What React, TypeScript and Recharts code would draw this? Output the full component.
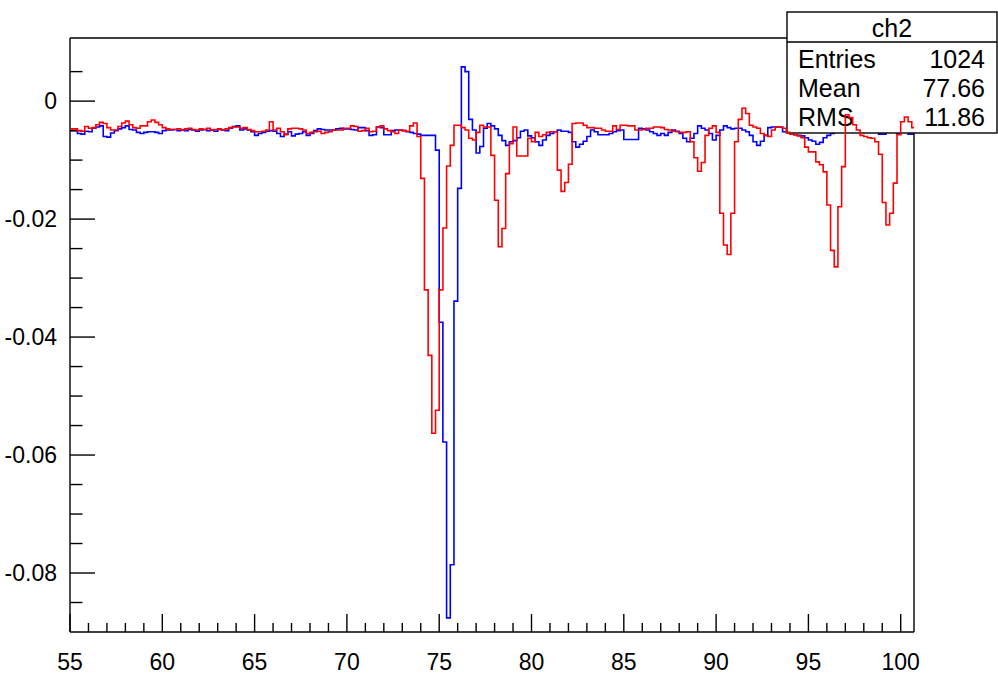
import React from 'react'
import { LineChart, Line, XAxis, YAxis } from 'recharts'

// histogram binning (lower edge of first bin, bin width)
const binStart = 55
const binWidth = 0.2

const redValues = [
  -0.0047, -0.0047, -0.005, -0.0051, -0.0043, -0.0046, -0.0045, -0.004, -0.0036, -0.0038,
  -0.0045, -0.0049, -0.0049, -0.0043, -0.0037, -0.0034, -0.004, -0.0045, -0.0046, -0.0042,
  -0.0042, -0.0035, -0.0032, -0.0036, -0.004, -0.0045, -0.0047, -0.0048, -0.0048, -0.0047,
  -0.0049, -0.0047, -0.0046, -0.0048, -0.0049, -0.0047, -0.0048, -0.0046, -0.0049, -0.0048,
  -0.0047, -0.0049, -0.0047, -0.0045, -0.0044, -0.0044, -0.0046, -0.0045, -0.0048, -0.005,
  -0.0052, -0.0052, -0.0051, -0.0049, -0.0035, -0.0049, -0.0046, -0.0052, -0.0057, -0.0047,
  -0.0046, -0.0046, -0.0047, -0.0049, -0.0055, -0.0053, -0.0052, -0.0051, -0.0055, -0.0053,
  -0.0052, -0.0049, -0.0049, -0.0049, -0.0046, -0.0046, -0.0042, -0.0043, -0.0051, -0.005,
  -0.0046, -0.0052, -0.0051, -0.0044, -0.0042, -0.0047, -0.005, -0.0052, -0.0055, -0.0049,
  -0.005, -0.0051, -0.0042, -0.0037, -0.006, -0.0131, -0.032, -0.0431, -0.0563, -0.0524,
  -0.032, -0.0215, -0.011, -0.0075, -0.0041, -0.0041, -0.0045, -0.0049, -0.0063, -0.0066,
  -0.0053, -0.0041, -0.0044, -0.0044, -0.0092, -0.0168, -0.0247, -0.0216, -0.0123, -0.0072,
  -0.0044, -0.0093, -0.0093, -0.0093, -0.0063, -0.0069, -0.0053, -0.006, -0.0057, -0.0053,
  -0.0052, -0.0052, -0.0117, -0.0153, -0.0138, -0.0107, -0.0038, -0.0037, -0.0037, -0.0041,
  -0.0045, -0.0045, -0.0046, -0.0046, -0.0049, -0.0051, -0.0051, -0.0042, -0.0048, -0.0041,
  -0.0041, -0.0042, -0.0042, -0.0049, -0.0049, -0.0048, -0.0046, -0.0046, -0.0044, -0.0044,
  -0.0045, -0.0048, -0.0049, -0.0051, -0.0052, -0.0053, -0.0053, -0.0052, -0.0069, -0.0096,
  -0.0119, -0.0104, -0.0058, -0.0046, -0.0042, -0.0053, -0.019, -0.0244, -0.026, -0.019,
  -0.0069, -0.0031, -0.0012, -0.0021, -0.0041, -0.0044, -0.0046, -0.0055, -0.0058, -0.006,
  -0.0049, -0.0044, -0.0044, -0.0046, -0.0053, -0.0056, -0.0057, -0.0059, -0.0062, -0.0078,
  -0.0086, -0.0086, -0.0103, -0.0108, -0.012, -0.0176, -0.0253, -0.0281, -0.0179, -0.0111,
  -0.0023, -0.0028, -0.004, -0.0049, -0.0058, -0.006, -0.0062, -0.0063, -0.0069, -0.009,
  -0.0172, -0.021, -0.019, -0.0139, -0.0057, -0.0035, -0.0027, -0.0035, -0.0045,
]

const blueValues = [
  -0.005, -0.005, -0.0055, -0.0056, -0.0051, -0.0052, -0.0046, -0.0044, -0.0042, -0.006,
  -0.0061, -0.0054, -0.005, -0.0047, -0.0045, -0.0042, -0.0048, -0.0049, -0.0053, -0.0055,
  -0.0053, -0.0052, -0.0052, -0.0053, -0.0055, -0.005, -0.0049, -0.0049, -0.0048, -0.005,
  -0.0049, -0.005, -0.0048, -0.0049, -0.0051, -0.0049, -0.0048, -0.005, -0.0049, -0.0051,
  -0.0048, -0.0049, -0.005, -0.0046, -0.0043, -0.0042, -0.0049, -0.0047, -0.0049, -0.0052,
  -0.0058, -0.0055, -0.0053, -0.0051, -0.005, -0.0051, -0.0055, -0.006, -0.0056, -0.0052,
  -0.0059, -0.0056, -0.0055, -0.0052, -0.0058, -0.0055, -0.005, -0.0047, -0.0048, -0.0049,
  -0.0049, -0.0049, -0.0047, -0.0046, -0.0047, -0.0047, -0.0048, -0.0049, -0.0045, -0.0045,
  -0.005, -0.0058, -0.0057, -0.0044, -0.0045, -0.0057, -0.0057, -0.005, -0.0049, -0.0049,
  -0.005, -0.0052, -0.0053, -0.0055, -0.0056, -0.0058, -0.0058, -0.0058, -0.0058, -0.0083,
  -0.0375, -0.0578, -0.0876, -0.0786, -0.0339, -0.0148, 0.0058, 0.005, -0.0031, -0.0049,
  -0.0088, -0.0077, -0.0046, -0.0038, -0.0042, -0.0047, -0.0058, -0.0067, -0.0075, -0.0069,
  -0.0067, -0.0062, -0.0051, -0.0049, -0.0059, -0.0062, -0.0069, -0.0075, -0.0066, -0.0058,
  -0.0055, -0.0052, -0.0049, -0.0051, -0.0051, -0.0053, -0.0069, -0.0078, -0.0073, -0.0068,
  -0.006, -0.0049, -0.0052, -0.0057, -0.0057, -0.0057, -0.0055, -0.0052, -0.005, -0.0049,
  -0.0065, -0.0065, -0.0065, -0.0065, -0.0046, -0.0047, -0.0049, -0.0052, -0.0055, -0.0058,
  -0.0055, -0.0058, -0.0053, -0.0049, -0.0051, -0.0055, -0.0063, -0.0069, -0.0063, -0.0055,
  -0.0042, -0.0046, -0.0049, -0.0055, -0.0066, -0.0058, -0.0049, -0.0042, -0.0045, -0.0047,
  -0.0046, -0.0046, -0.0049, -0.0052, -0.0058, -0.0069, -0.0075, -0.0068, -0.0058, -0.0045,
  -0.0044, -0.0044, -0.0044, -0.0052, -0.0053, -0.0055, -0.0057, -0.0058, -0.0059, -0.0062,
  -0.0066, -0.0068, -0.0073, -0.007, -0.0062, -0.0058, -0.0055, -0.0052, -0.005, -0.0049,
  -0.0048, -0.0049, -0.005, -0.0051, -0.005, -0.0049, -0.005, -0.0052, -0.005, -0.0056,
  -0.0056, -0.005, -0.0049, -0.005, -0.0056, -0.0051, -0.005, -0.0056, -0.0056,
]

const xTicks = [
  55, 56, 57, 58, 59, 60, 61, 62, 63, 64, 65, 66, 67, 68, 69, 70, 71, 72, 73, 74, 75, 76, 77,
  78, 79, 80, 81, 82, 83, 84, 85, 86, 87, 88, 89, 90, 91, 92, 93, 94, 95, 96, 97, 98, 99, 100,
]
const xLabels = [55, 60, 65, 70, 75, 80, 85, 90, 95, 100]
const yTicks = [
  0.005, 0, -0.005, -0.01, -0.015, -0.02, -0.025, -0.03, -0.035, -0.04, -0.045, -0.05, -0.055,
  -0.06, -0.065, -0.07, -0.075, -0.08, -0.085,
]
const yLabels = [0, -0.02, -0.04, -0.06, -0.08]

const statTitle = 'ch2'
const statNames = ['Entries', 'Mean', 'RMS']
const statValues = ['1024', '77.66', '11.86']

const xDomain = [55, 100.72]
const yDomain = [-0.09, 0.0107]

// step points: lower edge of each bin, plus the upper edge of the last one
const data = [...redValues, redValues[redValues.length - 1]].map((r, i) => ({
  x: Number((binStart + i * binWidth).toFixed(1)),
  red: r,
  blue: i < blueValues.length ? blueValues[i] : blueValues[blueValues.length - 1],
}))

const W = 998
const H = 675
const plot = { left: 70, top: 38, right: 914, bottom: 632 }
const font = '"Liberation Sans", Arial, Helvetica, sans-serif'

const isIn = (list: number[], v: number) => list.some((t) => Math.abs(t - v) < 1e-9)

const XTick = (props: any) => {
  const { x, y, payload } = props
  const major = isIn(xLabels, payload.value)
  return (
    <g>
      <line x1={x} x2={x} y1={y} y2={y - (major ? 18 : 9)} stroke='#000' strokeWidth={1.4} />
      {major && (
        <text x={x} y={y + 38} textAnchor='middle' fontFamily={font} fontSize={23} fill='#000'>
          {payload.value}
        </text>
      )}
    </g>
  )
}

const YTick = (props: any) => {
  const { x, y, payload } = props
  const major = isIn(yLabels, payload.value)
  return (
    <g>
      <line x1={x} x2={x + (major ? 25 : 12.5)} y1={y} y2={y} stroke='#000' strokeWidth={1.4} />
      {major && (
        <text x={x - 13} y={y + 8} textAnchor='end' fontFamily={font} fontSize={23} fill='#000'>
          {String(payload.value)}
        </text>
      )}
    </g>
  )
}

const layer: React.CSSProperties = { position: 'absolute', left: 0, top: 0 }

const App: React.FC = () => {
  return (
    <div style={{ position: 'relative', width: W, height: H, background: '#fff' }}>
      <style>{'body{margin:0}'}</style>

      {/* axes, frame and the blue histogram */}
      <div style={layer}>
        <LineChart
          width={W}
          height={H}
          data={data}
          margin={{ top: plot.top, right: W - plot.right, left: 0, bottom: 0 }}
        >
          <XAxis
            dataKey='x'
            type='number'
            domain={xDomain}
            allowDataOverflow
            ticks={xTicks}
            interval={0}
            height={H - plot.bottom}
            tickSize={0}
            tickMargin={0}
            tickLine={false}
            tick={XTick}
            axisLine={{ stroke: '#000', strokeWidth: 1.4 }}
          />
          <YAxis
            type='number'
            domain={yDomain}
            allowDataOverflow
            ticks={yTicks}
            interval={0}
            width={plot.left}
            tickSize={0}
            tickMargin={0}
            tickLine={false}
            tick={YTick}
            axisLine={{ stroke: '#000', strokeWidth: 1.4 }}
          />
          <Line
            type='stepAfter'
            dataKey='blue'
            stroke='#0000ff'
            strokeWidth={1.6}
            dot={false}
            isAnimationActive={false}
          />
        </LineChart>
      </div>

      {/* frame top/right and the stats box */}
      <svg width={W} height={H} style={layer}>
        <line x1={plot.left} x2={plot.right} y1={plot.top} y2={plot.top} stroke='#000' strokeWidth={1.4} />
        <line x1={plot.right} x2={plot.right} y1={plot.top} y2={plot.bottom} stroke='#000' strokeWidth={1.4} />
        <rect x={787} y={12} width={210} height={121} fill='#fff' stroke='#000' strokeWidth={1.4} />
        <line x1={787} x2={997} y1={42} y2={42} stroke='#000' strokeWidth={1.4} />
        <text x={892} y={37} textAnchor='middle' fontFamily={font} fontSize={25} fill='#000'>
          {statTitle}
        </text>
        {statNames.map((n, i) => (
          <g key={n}>
            <text x={798} y={68 + i * 29} fontFamily={font} fontSize={25} fill='#000'>
              {n}
            </text>
            <text x={985} y={68 + i * 29} textAnchor='end' fontFamily={font} fontSize={25} fill='#000'>
              {statValues[i]}
            </text>
          </g>
        ))}
      </svg>

      {/* red histogram on top */}
      <div style={layer}>
        <LineChart
          width={W}
          height={H}
          data={data}
          margin={{ top: plot.top, right: W - plot.right, left: plot.left, bottom: H - plot.bottom }}
        >
          <XAxis dataKey='x' type='number' domain={xDomain} allowDataOverflow hide />
          <YAxis type='number' domain={yDomain} allowDataOverflow hide />
          <Line
            type='stepAfter'
            dataKey='red'
            stroke='#ff0000'
            strokeWidth={1.6}
            dot={false}
            isAnimationActive={false}
          />
        </LineChart>
      </div>
    </div>
  )
}

export default App
